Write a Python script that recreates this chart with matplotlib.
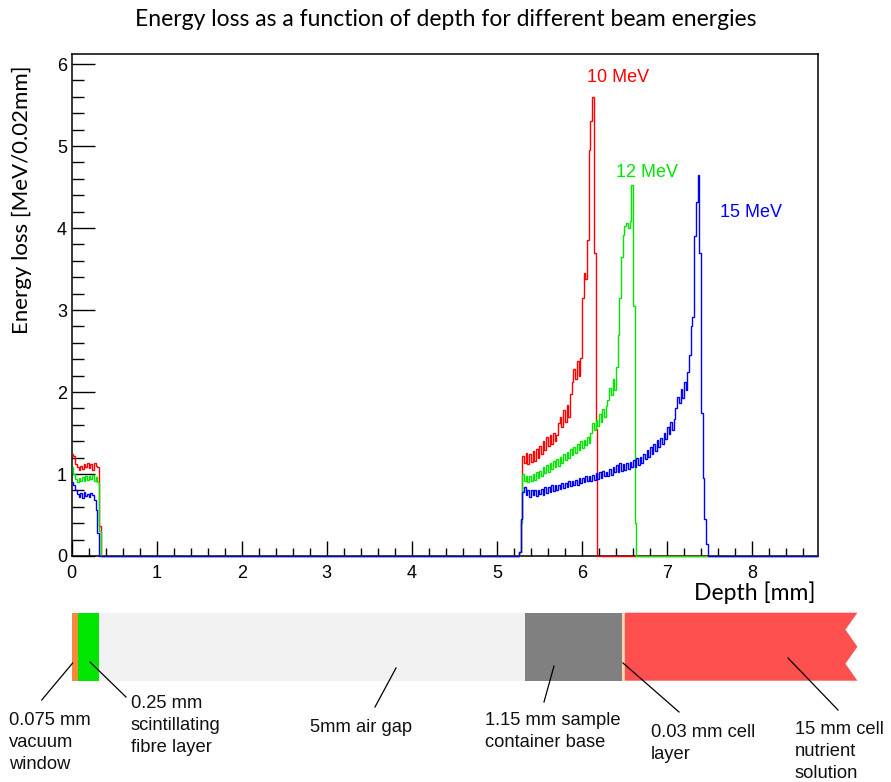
import numpy as np
import matplotlib
matplotlib.use("Agg")
import matplotlib.pyplot as plt
from matplotlib.ticker import MultipleLocator
from matplotlib.patches import Rectangle, Polygon

BIN = 0.02          # mm per histogram bin
DEPTH_MAX = 8.78    # right end of the depth axis

# vacuum window + scintillating fibre, bins starting at 0.00 mm
entry_start = 0.0
red_entry = [1.25, 1.22, 1.12, 1.08, 1.05, 1.10, 1.06, 1.12, 1.08, 1.14,
             1.07, 1.12, 1.05, 1.13, 1.10, 1.08, 0.36]
green_entry = [1.08, 1.00, 0.94, 0.90, 0.95, 0.91, 0.96, 0.92, 0.97, 0.93,
               0.98, 0.94, 0.99, 0.92, 0.96, 0.90, 0.30]
blue_entry = [0.90, 0.86, 0.80, 0.76, 0.72, 0.77, 0.71, 0.78, 0.73, 0.76,
              0.72, 0.77, 0.74, 0.68, 0.56, 0.28]

# sample container base + cell layer + nutrient, bins starting at 5.26 mm
peak_start = 5.26
red_peak = [0.05, 0.45,
            1.22, 1.13, 1.26, 1.12, 1.24, 1.15, 1.28, 1.16, 1.30, 1.19,
            1.34, 1.24, 1.40, 1.29, 1.45, 1.34, 1.48, 1.36, 1.50, 1.40,
            1.47, 1.62, 1.70, 1.57, 1.78, 1.64, 1.84, 1.70, 1.98, 2.12,
            2.28, 2.16, 2.38, 2.20, 2.42, 3.15, 3.45, 3.38, 3.85, 4.95,
            5.30, 5.60, 3.70, 1.55, 0.0]
green_peak = [0.05, 0.40,
              1.00, 0.91, 0.98, 0.90, 0.97, 0.92, 1.00, 0.93, 1.02, 0.95,
              1.04, 0.97, 1.08, 1.01, 1.11, 1.03, 1.14, 1.06, 1.16, 1.09,
              1.18, 1.10, 1.21, 1.13, 1.24, 1.17, 1.27, 1.20, 1.30, 1.23,
              1.33, 1.26, 1.37, 1.29, 1.40, 1.32, 1.42, 1.35, 1.45, 1.38,
              1.50, 1.62, 1.54, 1.66, 1.58, 1.73, 1.64, 1.79, 1.70, 1.83,
              1.90, 2.05, 1.96, 2.16, 2.02, 2.30, 2.70, 3.15, 3.65, 3.92,
              4.02, 4.06, 4.00, 4.08, 4.52, 3.05, 0.40, 0.0]
blue_peak = [0.05, 0.45,
             0.78, 0.84, 0.74, 0.80, 0.72, 0.81, 0.75, 0.80, 0.73, 0.81,
             0.76, 0.82, 0.75, 0.84, 0.77, 0.84, 0.78, 0.86, 0.79, 0.86,
             0.80, 0.87, 0.82, 0.89, 0.83, 0.89, 0.84, 0.91, 0.85, 0.92,
             0.86, 0.93, 0.87, 0.95, 0.89, 0.95, 0.90, 0.97, 0.91, 0.97,
             0.92, 0.99, 0.93, 1.01, 0.94, 1.02, 0.95, 1.04, 0.97, 1.03,
             0.97, 1.06, 0.99, 1.09, 1.02, 1.11, 1.03, 1.13, 1.04, 1.12,
             1.05, 1.14, 1.06, 1.15, 1.08, 1.17, 1.09, 1.19, 1.11, 1.21,
             1.14, 1.25, 1.18, 1.29, 1.21, 1.33, 1.25, 1.37, 1.28, 1.41,
             1.33, 1.44, 1.37, 1.50, 1.43, 1.57, 1.49, 1.64, 1.54, 1.67,
             1.80, 1.94, 1.86, 2.04, 1.93, 2.12, 2.03, 2.25, 2.45, 2.80,
             2.92, 3.90, 4.32, 4.65, 3.70, 1.75, 0.95, 0.45, 0.15, 0.0]

energies = ["10 MeV", "12 MeV", "15 MeV"]
colors = ["#ff0000", "#00e600", "#0000ff"]
label_xy = [(6.42, 5.84), (6.77, 4.68), (7.99, 4.19)]

# target layers (thickness in mm) for the schematic below the plot
layer_names = ["vacuum window", "fibre", "air gap", "container base", "cell layer"]
layer_thick = [0.075, 0.25, 5.0, 1.15, 0.03]
layer_colors = ["#f58a3c", "#00e600", "#f2f2f2", "#808080", "#f8d6b4"]
nutrient_color = "#ff5050"
nutrient_shown = 9.24   # mm drawn before the cut

notes = [
    ("0.075 mm\nvacuum\nwindow", (9, 712), (72.7, 663), (41.7, 700)),
    ("0.25 mm\nscintillating\nfibre layer", (131, 695), (90, 662), (126, 697)),
    ("5mm air gap", (310, 719), (396, 668), (375, 707)),
    ("1.15 mm sample\ncontainer base", (485, 712), (554, 666), (544, 702)),
    ("0.03 mm cell\nlayer", (651, 724), (623, 663), (679, 712)),
    ("15 mm cell\nnutrient\nsolution", (795, 721), (788, 658), (838, 710)),
]

W, H = 891, 782
X0, X1, Y0, Y1 = 71.7, 818.3, 54, 556   # axes frame in pixels

nbins = int(round(DEPTH_MAX / BIN))
edges = np.arange(nbins + 1) * BIN


def build(entry, peak):
    h = np.zeros(nbins)
    i0 = int(round(entry_start / BIN))
    h[i0:i0 + len(entry)] = entry
    i1 = int(round(peak_start / BIN))
    h[i1:i1 + len(peak)] = peak
    return h


hists = [build(red_entry, red_peak), build(green_entry, green_peak),
         build(blue_entry, blue_peak)]

fig = plt.figure(figsize=(W / 100, H / 100), dpi=100)

# schematic of the layers, drawn in pixel space
axd = fig.add_axes([0, 0, 1, 1])
axd.set_xlim(0, W)
axd.set_ylim(H, 0)
axd.axis("off")
px_per_mm = (X1 - X0) / DEPTH_MAX
bar_top, bar_bot = 612.7, 680.7
pos = 0.0
for th, col in zip(layer_thick, layer_colors):
    axd.add_patch(Rectangle((X0 + pos * px_per_mm, bar_top), th * px_per_mm,
                            bar_bot - bar_top, facecolor=col, edgecolor="none"))
    pos += th
xs = X0 + pos * px_per_mm
xe = X0 + nutrient_shown * px_per_mm
notch = 12
hb = (bar_bot - bar_top) / 4
axd.add_patch(Polygon([(xs, bar_top), (xe, bar_top), (xe - notch, bar_top + hb),
                       (xe, bar_top + 2 * hb), (xe - notch, bar_top + 3 * hb),
                       (xe, bar_bot), (xs, bar_bot)],
                      closed=True, facecolor=nutrient_color, edgecolor="none"))
for text, (tx, ty), p1, p2 in notes:
    axd.plot([p1[0], p2[0]], [p1[1], p2[1]], color="black", lw=0.9)
    axd.text(tx, ty, text, ha="left", va="top", fontsize=13.2,
             family="Liberation Sans", linespacing=1.4, color="#111111")

# main histogram axes
ax = fig.add_axes([X0 / W, 1 - Y1 / H, (X1 - X0) / W, (Y1 - Y0) / H])
ax.patch.set_alpha(0)
for h, col in zip(hists, colors):
    ax.stairs(h, edges, color=col, lw=1.0, baseline=None, zorder=3, clip_on=False)
for name, col, (lx, ly) in zip(energies, colors, label_xy):
    ax.text(lx, ly, name, color=col, fontsize=13, family="Liberation Sans",
            ha="center", va="center")

ax.set_xlim(0, DEPTH_MAX)
ax.set_ylim(0, (Y1 - Y0) / 82.0)
ax.xaxis.set_major_locator(MultipleLocator(1))
ax.xaxis.set_minor_locator(MultipleLocator(0.2))
ax.yaxis.set_major_locator(MultipleLocator(1))
ax.yaxis.set_minor_locator(MultipleLocator(0.2))
ax.tick_params(axis="x", which="major", direction="in", length=10.8, width=1.0,
               pad=6.5, labelsize=13)
ax.tick_params(axis="x", which="minor", direction="in", length=5.8, width=1.0)
ax.tick_params(axis="y", which="major", direction="in", length=16.5, width=1.0,
               pad=3.4, labelsize=13)
ax.tick_params(axis="y", which="minor", direction="in", length=8.6, width=1.0)
for lab in ax.get_xticklabels() + ax.get_yticklabels():
    lab.set_family("Liberation Sans")
for sp in ax.spines.values():
    sp.set_linewidth(1.1)
    sp.set_zorder(2)

fig.text(0.5, 1 - 20 / H, "Energy loss as a function of depth for different beam energies",
         ha="center", va="center", fontsize=16.5, family="Lato")
fig.text(22 / W, 1 - 65 / H, "Energy loss [MeV/0.02mm]", rotation=90,
         ha="center", va="top", fontsize=16, family="Lato")
fig.text(815 / W, 1 - 600 / H, "Depth [mm]", ha="right", va="baseline",
         fontsize=16.5, family="Lato")

fig.savefig("out.png", dpi=100)
